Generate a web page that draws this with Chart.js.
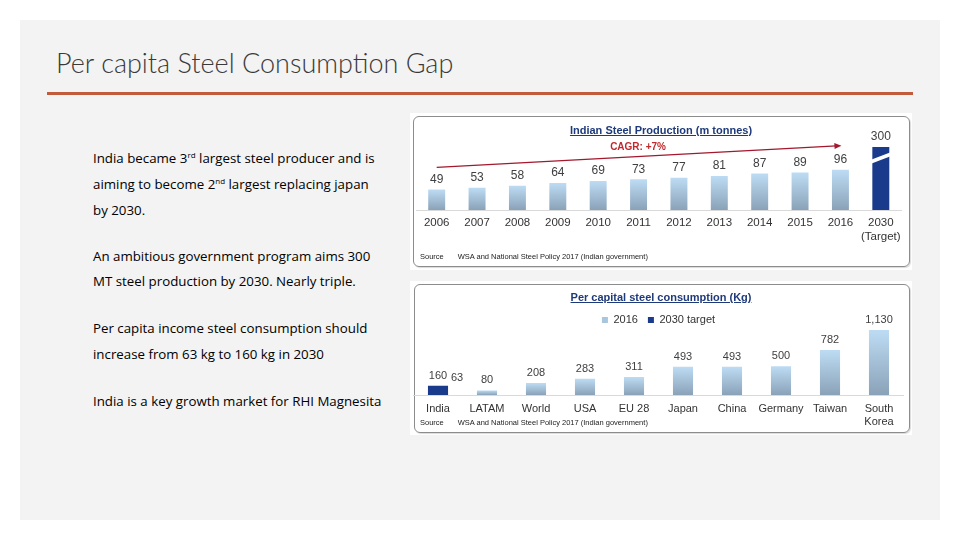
<!DOCTYPE html>
<html>
<head>
<meta charset="utf-8">
<script src="https://cdn.jsdelivr.net/npm/chart.js@4.4.1/dist/chart.umd.min.js"></script>
<style>
  html, body { margin: 0; padding: 0; background: #fff; }
  body { width: 960px; height: 540px; position: relative; overflow: hidden; font-family: 'Open Sans', 'Noto Sans', sans-serif; }
  .slide { position: absolute; left: 20px; top: 20px; width: 920px; height: 500px; background: #f3f3f3; }
  .title { position: absolute; left: 56px; top: 46px; font-family: Lato, 'Open Sans', sans-serif; font-size: 27px; font-weight: 300; color: #3a3a3a; white-space: nowrap; }
  .rule { position: absolute; left: 47px; top: 92px; width: 866px; height: 3px; background: #c25a3c; }
  .txt { position: absolute; left: 93px; margin: 0; font-size: 13.3px; line-height: 18px; color: #000; white-space: nowrap; }
  .txt sup { font-size: 8px; line-height: 0; vertical-align: 5px; }
  .img { position: absolute; left: 410px; width: 502px; background: #fff; }
  .panel { position: absolute; border: 1.5px solid #8c8c8c; border-radius: 6px; box-sizing: border-box; box-shadow: 1px 1px 1px rgba(0,0,0,0.15); }
  .ctitle { position: absolute; transform: translateX(-50%); font: bold 11px 'Liberation Sans', Arial, sans-serif; color: #1f3a7a; text-decoration: underline; white-space: nowrap; }
  .source { position: absolute; left: 420px; font: 7.5px 'Liberation Sans', Arial, sans-serif; color: #222; white-space: nowrap; }
  .source b { font-weight: normal; margin-right: 14px; }
  .chart { position: absolute; left: 410px; width: 502px; }
</style>
</head>
<body>
<div class="slide"></div>
<div class="title">Per capita Steel Consumption Gap</div>
<div class="rule"></div>

<p class="txt" style="top:149px">India became 3<sup>rd</sup> largest steel producer and is</p>
<p class="txt" style="top:175px">aiming to become 2<sup>nd</sup> largest replacing japan</p>
<p class="txt" style="top:201px">by 2030.</p>
<p class="txt" style="top:247px">An ambitious government program aims 300</p>
<p class="txt" style="top:272px">MT steel production by 2030. Nearly triple.</p>
<p class="txt" style="top:319px">Per capita income steel consumption should</p>
<p class="txt" style="top:345px">increase from 63 kg to 160 kg in 2030</p>
<p class="txt" style="top:392px">India is a key growth market for RHI Magnesita</p>

<div class="img" style="top:113px;height:157px"></div>
<div class="img" style="top:281px;height:154px"></div>
<div class="panel" style="left:413px;top:116px;width:497px;height:151px"></div>
<div class="panel" style="left:414px;top:284px;width:496px;height:149px"></div>

<div class="chart" style="top:113px;height:157px"><canvas id="prodChart"></canvas></div>
<div class="chart" style="top:281px;height:154px"><canvas id="consChart"></canvas></div>

<div class="ctitle" style="left:661px;top:124px">Indian Steel Production (m tonnes)</div>
<div class="ctitle" style="left:661px;top:291px">Per capital steel consumption (Kg)</div>
<div class="source" style="top:252px"><b>Source</b>WSA and National Steel Policy 2017 (Indian government)</div>
<div class="source" style="top:418px"><b>Source</b>WSA and National Steel Policy 2017 (Indian government)</div>

<script>
// Indian steel production, million tonnes
const prodYears = ['2006', '2007', '2008', '2009', '2010', '2011', '2012', '2013', '2014', '2015', '2016', ['2030', '(Target)']];
const prodValues = [49, 53, 58, 64, 69, 73, 77, 81, 87, 89, 96, 300];

// per capita steel consumption, kg
const countries = ['India', 'LATAM', 'World', 'USA', 'EU 28', 'Japan', 'China', 'Germany', 'Taiwan', ['South', 'Korea']];
const consumption2016 = [63, 80, 208, 283, 311, 493, 493, 500, 782, 1130];
const consumption2030 = [160, null, null, null, null, null, null, null, null, null];

// bars above this are drawn cut off (broken axis)
const axisBreak = 150;

const NAVY = '#1a3a8c';
const LIGHT = '#a9c6df';
const FONT = "'Liberation Sans', Arial, sans-serif";

Chart.defaults.font.family = FONT;
Chart.defaults.color = '#333';

function barGradient(context) {
  const chart = context.chart;
  if (!chart.chartArea || context.raw == null) return LIGHT;
  const y = chart.scales.y;
  const g = chart.ctx.createLinearGradient(0, y.getPixelForValue(context.raw), 0, y.getPixelForValue(0));
  g.addColorStop(0, '#bddcf4');
  g.addColorStop(1, '#8aa2b8');
  return g;
}

// value labels above the bars
const barValues = {
  id: 'barValues',
  afterDatasetsDraw(chart, args, opts) {
    const ctx = chart.ctx;
    const y = chart.scales.y;
    ctx.save();
    ctx.font = opts.size + 'px ' + FONT;
    ctx.fillStyle = '#404040';
    ctx.textAlign = 'center';
    ctx.textBaseline = 'middle';
    chart.data.datasets.forEach((ds, di) => {
      const meta = chart.getDatasetMeta(di);
      meta.data.forEach((bar, i) => {
        const shown = (ds.valueLabels || ds.data)[i];
        if (shown == null) return;
        let px = bar.x;
        let py = bar.y - opts.offset;
        // hidden behind a taller bar of another series: write it beside
        const cover = chart.data.datasets.find((o, oi) => oi !== di && o.data[i] != null && o.data[i] > ds.data[i]);
        if (cover) {
          px = bar.x + bar.width / 2 + 9;
          py = y.getPixelForValue(cover.data[i]) - opts.offset + 2;
        }
        ctx.fillText(shown.toLocaleString('en-US'), px, py);
      });
    });
    ctx.restore();
  }
};

// axis break marks and the CAGR arrow
const cagrFrom = 0, cagrTo = 10;
const prodNotes = {
  id: 'prodNotes',
  afterDatasetsDraw(chart) {
    const ctx = chart.ctx;
    const bars = chart.getDatasetMeta(0).data;
    ctx.save();

    bars.forEach((bar, i) => {
      if (prodValues[i] <= axisBreak) return;
      const yy = bar.y + 11;
      const half = bar.width / 2 + 2;
      ctx.strokeStyle = '#fff';
      ctx.lineWidth = 3.5;
      ctx.beginPath();
      ctx.moveTo(bar.x - half, yy + 4);
      ctx.lineTo(bar.x + half, yy - 4);
      ctx.stroke();
    });

    const a = bars[cagrFrom], b = bars[cagrTo];
    const x1 = a.x, y1 = a.y - 22, x2 = b.x + 1, y2 = b.y - 24;
    const ang = Math.atan2(y2 - y1, x2 - x1);
    ctx.strokeStyle = '#a3182c';
    ctx.fillStyle = '#a3182c';
    ctx.lineWidth = 1.2;
    ctx.beginPath();
    ctx.moveTo(x1, y1);
    ctx.lineTo(x2 - 5 * Math.cos(ang), y2 - 5 * Math.sin(ang));
    ctx.stroke();
    ctx.beginPath();
    ctx.moveTo(x2, y2);
    ctx.lineTo(x2 - 7 * Math.cos(ang) + 3 * Math.sin(ang), y2 - 7 * Math.sin(ang) - 3 * Math.cos(ang));
    ctx.lineTo(x2 - 7 * Math.cos(ang) - 3 * Math.sin(ang), y2 - 7 * Math.sin(ang) + 3 * Math.cos(ang));
    ctx.closePath();
    ctx.fill();

    ctx.fillStyle = '#c0282d';
    ctx.font = 'bold 10px ' + FONT;
    ctx.textAlign = 'center';
    ctx.textBaseline = 'middle';
    ctx.fillText('CAGR: +7%', (x1 + x2) / 2 - 1, (y1 + y2) / 2 - 9);
    ctx.restore();
  }
};

new Chart(document.getElementById('prodChart'), {
  type: 'bar',
  data: {
    labels: prodYears,
    datasets: [{
      label: 'Production',
      data: prodValues.map(v => Math.min(v, axisBreak)),
      valueLabels: prodValues,
      backgroundColor: c => c.dataIndex === prodValues.length - 1 ? NAVY : barGradient(c),
      categoryPercentage: 1,
      barPercentage: 0.42
    }]
  },
  options: {
    responsive: true,
    maintainAspectRatio: false,
    animation: false,
    layout: { padding: { left: 6.5, right: 11, top: 13, bottom: 20 } },
    scales: {
      x: {
        grid: { display: false, drawTicks: false },
        border: { color: '#d9d9d9' },
        ticks: { font: { size: 11.5 }, color: '#333', padding: 6, maxRotation: 0, autoSkip: false },
        afterFit: s => { s.height = 40; }
      },
      y: { display: false, min: 0, max: 200 }
    },
    plugins: {
      legend: { display: false },
      tooltip: { enabled: false },
      barValues: { size: 12, offset: 10 }
    }
  },
  plugins: [barValues, prodNotes]
});

new Chart(document.getElementById('consChart'), {
  type: 'bar',
  data: {
    labels: countries,
    datasets: [{
      label: '2016',
      data: consumption2016,
      backgroundColor: barGradient,
      categoryPercentage: 1,
      barPercentage: 0.41,
      order: 1
    }, {
      label: '2030 target',
      data: consumption2030,
      backgroundColor: NAVY,
      categoryPercentage: 1,
      barPercentage: 0.41,
      order: 0
    }]
  },
  options: {
    responsive: true,
    maintainAspectRatio: false,
    animation: false,
    datasets: { bar: { grouped: false } },
    layout: { padding: { left: 3.5, right: 8.5, top: 23.5, bottom: 0 } },
    scales: {
      x: {
        grid: { display: false, drawTicks: false },
        border: { color: '#d9d9d9' },
        ticks: { font: { size: 11 }, color: '#333', padding: 7, maxRotation: 0, autoSkip: false },
        afterFit: s => { s.height = 40; }
      },
      y: { display: false, min: 0, max: 1200 }
    },
    plugins: {
      legend: {
        position: 'top',
        align: 'center',
        maxHeight: 21.5,
        labels: {
          boxWidth: 6,
          boxHeight: 6,
          padding: 10,
          font: { size: 11 },
          color: '#333',
          sort: (a, b) => a.datasetIndex - b.datasetIndex,
          generateLabels: chart => Chart.defaults.plugins.legend.labels.generateLabels(chart).map(item => {
            item.fillStyle = item.datasetIndex === 0 ? LIGHT : NAVY;
            item.strokeStyle = item.fillStyle;
            item.lineWidth = 0;
            return item;
          })
        }
      },
      tooltip: { enabled: false },
      barValues: { size: 11, offset: 10 }
    }
  },
  plugins: [barValues]
});
</script>
</body>
</html>
